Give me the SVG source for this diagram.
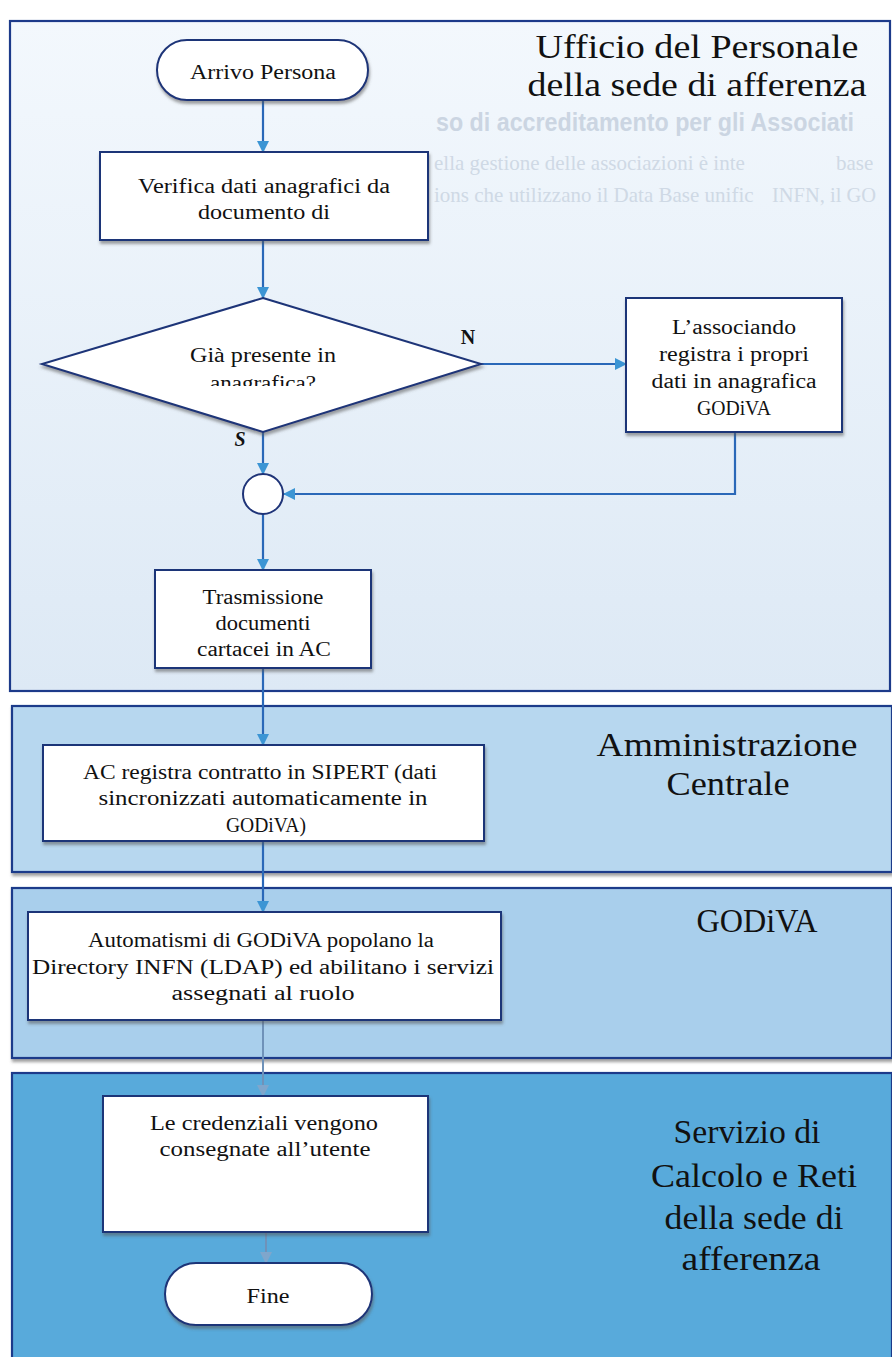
<svg xmlns="http://www.w3.org/2000/svg" width="892" height="1357" viewBox="0 0 892 1357">
<defs>
<style>
.lane{stroke:#1c3a8a;stroke-width:2.2}
.node{fill:#ffffff;stroke:#1f3478;stroke-width:2}
.t{font-family:"Liberation Serif","DejaVu Serif",serif;font-size:20px;fill:#111111;text-anchor:middle}
.lt{font-family:"Liberation Serif","DejaVu Serif",serif;font-size:33px;fill:#111111;text-anchor:middle}
.lbl{font-family:"Liberation Serif","DejaVu Serif",serif;font-size:20px;font-weight:bold;fill:#111111;text-anchor:middle}
.ghost{font-family:"Liberation Serif","DejaVu Serif",serif;font-size:21px;fill:#cfd9e5}
.ghostb{font-family:"Liberation Sans","DejaVu Sans",sans-serif;font-size:25px;font-weight:bold;fill:#cbd5e2}
.c{fill:none;stroke:#2a68b8;stroke-width:2.2}
.cf{fill:none;stroke:#6f92b9;stroke-width:2}
</style>
<linearGradient id="g1" x1="0" y1="0" x2="0" y2="1">
<stop offset="0" stop-color="#f3f8fd"/>
<stop offset="1" stop-color="#dde9f5"/>
</linearGradient>
<filter id="sh" x="-10%" y="-10%" width="130%" height="140%">
<feDropShadow dx="1" dy="3" stdDeviation="1.5" flood-color="#555555" flood-opacity="0.55"/>
</filter>
<marker id="ah" viewBox="0 0 12 12" refX="11" refY="6" markerWidth="12" markerHeight="12" markerUnits="userSpaceOnUse" orient="auto">
<path d="M0,0 L12,6 L0,12 z" fill="#3c95d4"/>
</marker>
<marker id="ahf" viewBox="0 0 12 12" refX="11" refY="6" markerWidth="12" markerHeight="12" markerUnits="userSpaceOnUse" orient="auto">
<path d="M0,0 L12,6 L0,12 z" fill="#7fa6cc"/>
</marker>
<clipPath id="clipDia"><rect x="0" y="0" width="892" height="386"/></clipPath>
</defs>

<rect x="0" y="0" width="892" height="1357" fill="#ffffff"/>

<g id="lanes">
<g id="lane1">
<rect class="lane" x="10" y="21" width="880" height="670" fill="url(#g1)"/>
<text class="ghostb" x="436" y="131" textLength="418" lengthAdjust="spacingAndGlyphs">so di accreditamento per gli Associati</text>
<text class="ghost" x="434" y="170">ella gestione delle associazioni è inte</text>
<text class="ghost" x="836" y="170">base</text>
<text class="ghost" x="434" y="202">ions che utilizzano il Data Base unific</text>
<text class="ghost" x="772" y="202" textLength="104" lengthAdjust="spacingAndGlyphs">INFN, il GO</text>
<text class="lt" x="697" y="58" textLength="323" lengthAdjust="spacingAndGlyphs">Ufficio del Personale</text>
<text class="lt" x="697" y="96" textLength="339" lengthAdjust="spacingAndGlyphs">della sede di afferenza</text>
</g>
<g id="lane2">
<rect class="lane" x="12" y="706" width="880" height="166" fill="#b7d7ef" filter="url(#sh)"/>
<text class="lt" x="727" y="756" textLength="261" lengthAdjust="spacingAndGlyphs">Amministrazione</text>
<text class="lt" x="728" y="795" textLength="123" lengthAdjust="spacingAndGlyphs">Centrale</text>
</g>
<g id="lane3">
<rect class="lane" x="12" y="888" width="880" height="170" fill="#a9cfec" filter="url(#sh)"/>
<text class="lt" x="757" y="932" textLength="121" lengthAdjust="spacingAndGlyphs">GODiVA</text>
</g>
<g id="lane4">
<rect class="lane" x="12" y="1073" width="880" height="300" fill="#58aadb"/>
<text class="lt" x="747" y="1143" textLength="147" lengthAdjust="spacingAndGlyphs">Servizio di</text>
<text class="lt" x="754" y="1187" textLength="206" lengthAdjust="spacingAndGlyphs">Calcolo e Reti</text>
<text class="lt" x="754" y="1229" textLength="179" lengthAdjust="spacingAndGlyphs">della sede di</text>
<text class="lt" x="751" y="1270" textLength="139" lengthAdjust="spacingAndGlyphs">afferenza</text>
</g>
</g>

<g id="connectors">
<line class="c" x1="263" y1="100" x2="263" y2="152" marker-end="url(#ah)"/>
<line class="c" x1="263" y1="240" x2="263" y2="298" marker-end="url(#ah)"/>
<line class="c" x1="481" y1="364" x2="626" y2="364" marker-end="url(#ah)"/>
<line class="c" x1="263" y1="432" x2="263" y2="474" marker-end="url(#ah)"/>
<polyline class="c" points="735,432 735,494 284,494" marker-end="url(#ah)"/>
<line class="c" x1="263" y1="514" x2="263" y2="570" marker-end="url(#ah)"/>
<line class="c" x1="263" y1="668" x2="263" y2="745" marker-end="url(#ah)"/>
<line class="c" x1="263" y1="841" x2="263" y2="912" marker-end="url(#ah)"/>
<line class="cf" x1="263" y1="1020" x2="263" y2="1096" marker-end="url(#ahf)"/>
<line class="cf" x1="266" y1="1232" x2="266" y2="1263" marker-end="url(#ahf)"/>
<text class="lbl" x="468" y="344">N</text>
<text class="lbl" x="240" y="446" font-style="italic">S</text>
</g>

<g id="n-arrivo">
<rect class="node" x="157" y="40" width="211" height="60" rx="30" filter="url(#sh)"/>
<text class="t" x="263" y="79" textLength="146" lengthAdjust="spacingAndGlyphs">Arrivo Persona</text>
</g>

<g id="n-verifica">
<rect class="node" x="100" y="152" width="328" height="88" filter="url(#sh)"/>
<text class="t" x="264" y="193" textLength="252" lengthAdjust="spacingAndGlyphs">Verifica dati anagrafici da</text>
<text class="t" x="264" y="219" textLength="132" lengthAdjust="spacingAndGlyphs">documento di</text>
</g>

<g id="n-decisione">
<polygon class="node" points="263,298 481,364 263,432 42,364" filter="url(#sh)"/>
<text class="t" x="263" y="362" textLength="146" lengthAdjust="spacingAndGlyphs">Già presente in</text>
<text class="t" x="263" y="390" textLength="106" lengthAdjust="spacingAndGlyphs" clip-path="url(#clipDia)">anagrafica?</text>
</g>

<g id="n-associando">
<rect class="node" x="626" y="298" width="216" height="134" filter="url(#sh)"/>
<text class="t" x="734" y="334" textLength="124" lengthAdjust="spacingAndGlyphs">L’associando</text>
<text class="t" x="734" y="361" textLength="150" lengthAdjust="spacingAndGlyphs">registra i propri</text>
<text class="t" x="734" y="388" textLength="165" lengthAdjust="spacingAndGlyphs">dati in anagrafica</text>
<text class="t" x="734" y="415" textLength="74" lengthAdjust="spacingAndGlyphs">GODiVA</text>
</g>

<g id="n-giunzione">
<circle class="node" cx="263" cy="494" r="20"/>
</g>

<g id="n-trasmissione">
<rect class="node" x="155" y="570" width="216" height="98" filter="url(#sh)"/>
<text class="t" x="263" y="604" textLength="121" lengthAdjust="spacingAndGlyphs">Trasmissione</text>
<text class="t" x="263" y="630" textLength="95" lengthAdjust="spacingAndGlyphs">documenti</text>
<text class="t" x="264" y="656" textLength="134" lengthAdjust="spacingAndGlyphs">cartacei in AC</text>
</g>

<g id="n-ac">
<rect class="node" x="43" y="745" width="441" height="96" filter="url(#sh)"/>
<text class="t" x="260" y="779" textLength="354" lengthAdjust="spacingAndGlyphs">AC registra contratto in SIPERT (dati</text>
<text class="t" x="263" y="805" textLength="329" lengthAdjust="spacingAndGlyphs">sincronizzati automaticamente in</text>
<text class="t" x="266" y="832" textLength="80" lengthAdjust="spacingAndGlyphs">GODiVA)</text>
</g>

<g id="n-automatismi">
<rect class="node" x="28" y="912" width="473" height="108" filter="url(#sh)"/>
<text class="t" x="261" y="947" textLength="346" lengthAdjust="spacingAndGlyphs">Automatismi di GODiVA popolano la</text>
<text class="t" x="263" y="974" textLength="462" lengthAdjust="spacingAndGlyphs">Directory INFN (LDAP) ed abilitano i servizi</text>
<text class="t" x="263" y="1000" textLength="183" lengthAdjust="spacingAndGlyphs">assegnati al ruolo</text>
</g>

<g id="n-credenziali">
<rect class="node" x="103" y="1096" width="325" height="136" filter="url(#sh)"/>
<text class="t" x="264" y="1130" textLength="228" lengthAdjust="spacingAndGlyphs">Le credenziali vengono</text>
<text class="t" x="265" y="1156" textLength="211" lengthAdjust="spacingAndGlyphs">consegnate all’utente</text>
</g>

<g id="n-fine">
<rect class="node" x="165" y="1263" width="207" height="62" rx="31" filter="url(#sh)"/>
<text class="t" x="268" y="1303" textLength="43" lengthAdjust="spacingAndGlyphs">Fine</text>
</g>
</svg>
